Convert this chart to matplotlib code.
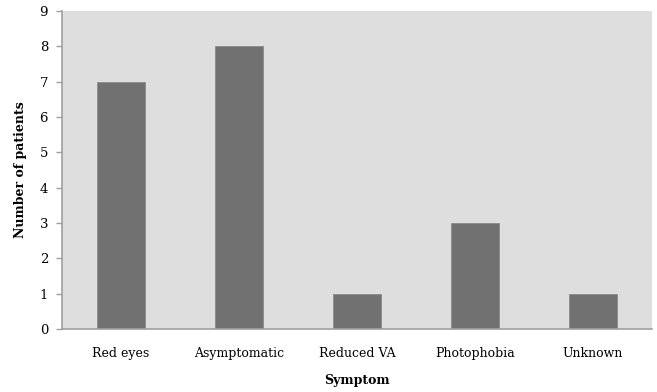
import matplotlib.pyplot as plt
import numpy as np

categories = ["Red eyes", "Asymptomatic", "Reduced VA", "Photophobia", "Unknown"]
patients = [7, 8, 1, 3, 1]
yticks = [0, 1, 2, 3, 4, 5, 6, 7, 8, 9]

plt.rcParams['font.family'] = ['DejaVu Serif']

fig = plt.figure(figsize=(6.57, 3.92), dpi=100)
ax = fig.add_axes([62/657, 1 - 329/392, (652 - 62)/657, (329 - 11)/392])
ax.set_facecolor('#dedede')

x = np.arange(len(categories))
ax.bar(x, patients, width=0.4, color='#717171', edgecolor='#8a8a8a', linewidth=0.6, zorder=2)

ax.set_xlim(-0.5, len(categories) - 0.5)
ax.set_ylim(0, 9)
ax.set_yticks(yticks)
ax.set_xticks(x)
ax.set_xticklabels(categories, fontsize=9)
ax.tick_params(axis='y', labelsize=9.5, length=4, color='#a0a0a0', width=1, pad=6)
ax.tick_params(axis='x', length=0, pad=13)

for s in ['top', 'right']:
    ax.spines[s].set_visible(False)
for s in ['left', 'bottom']:
    ax.spines[s].set_color('#a0a0a0')
    ax.spines[s].set_linewidth(1.2)

ax.set_ylabel("Number of patients", fontsize=9, fontweight='bold', labelpad=9)
ax.set_xlabel("Symptom", fontsize=9, fontweight='bold', labelpad=10)

fig.savefig("out.png", dpi=100)
